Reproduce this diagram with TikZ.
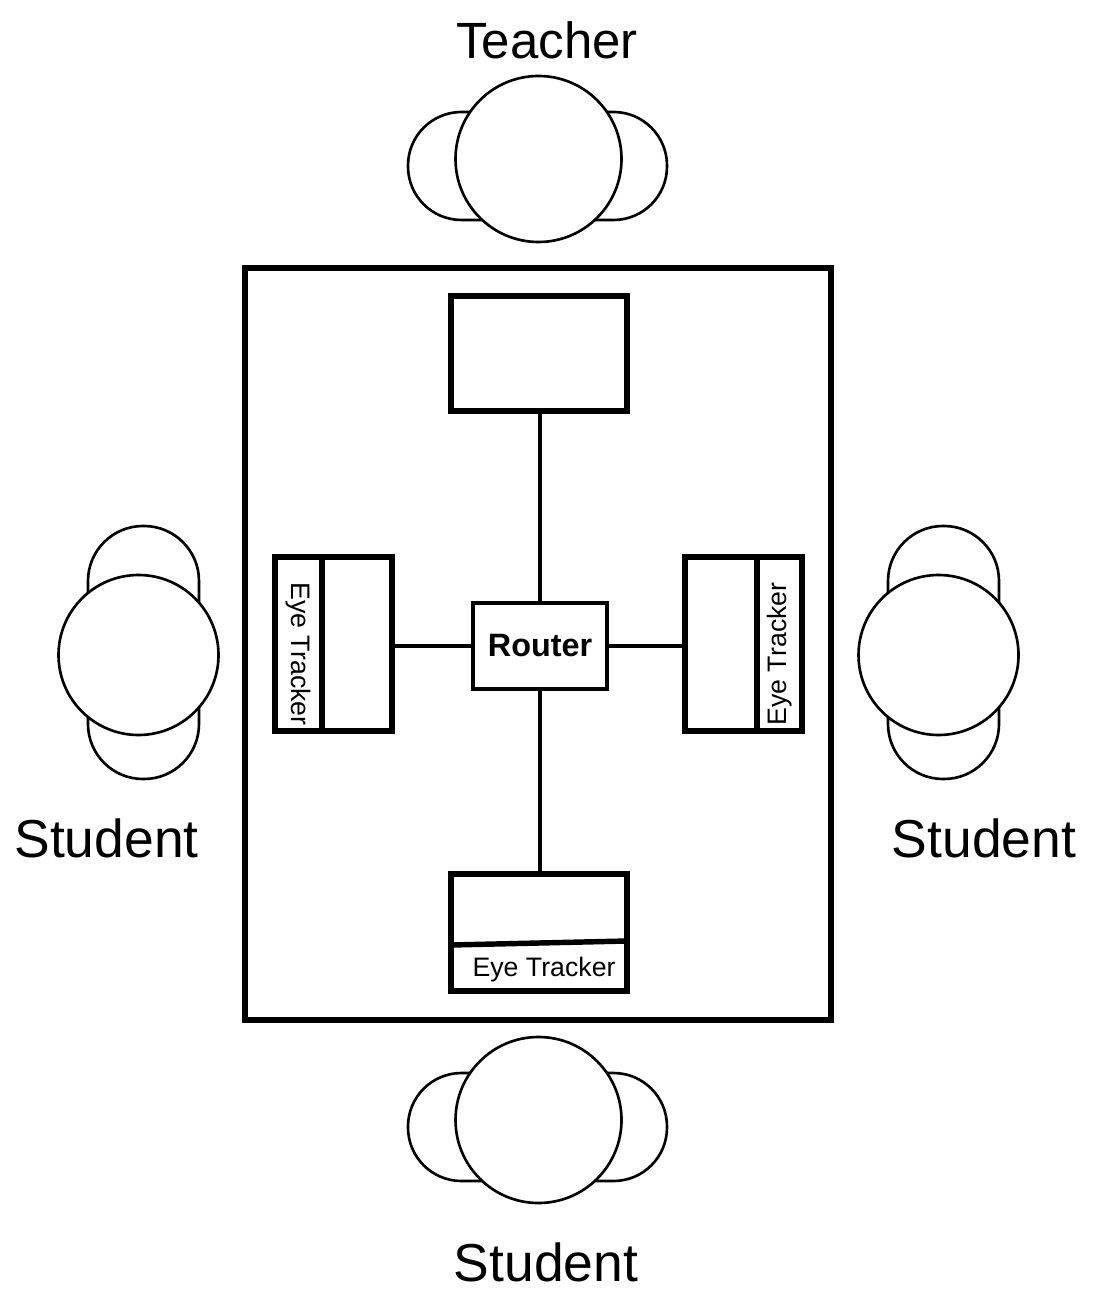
\documentclass[tikz,border=0pt]{standalone}
\usepackage{fontspec}
\setmainfont{Liberation Sans}
\tikzset{
  laptop/.style={draw,line width=1.55pt,fill=white,inner sep=0pt},
  link/.style={line width=1pt},
  chair/.style={line width=0.75pt,fill=white},
  seatlabel/.style={font=\fontsize{14.5}{16}\selectfont},
  tracker/.style={font=\fontsize{7.6}{9}\selectfont,inner sep=0pt}
}
\begin{document}
\begin{tikzpicture}
    \useasboundingbox (0,0) rectangle (10.95,-13.03);

    % Teacher chair at the top
    \draw[chair,rounded corners=0.535cm] (4.08,-1.12) rectangle (6.67,-2.20);
    \draw[chair] (5.385,-1.59) circle (0.83);
    \node[seatlabel] (teacher) at (5.47,-0.40) {Teacher};

    % Student chairs left, right and bottom
    \draw[chair,rounded corners=0.55cm] (0.88,-5.26) rectangle (1.99,-7.79);
    \draw[chair] (1.385,-6.55) circle (0.80);
    \node[seatlabel,font=\fontsize{15.2}{17}\selectfont] (leftStudent) at (1.065,-8.38) {Student};

    \draw[chair,rounded corners=0.55cm] (8.88,-5.26) rectangle (9.99,-7.79);
    \draw[chair] (9.385,-6.55) circle (0.80);
    \node[seatlabel,font=\fontsize{15.2}{17}\selectfont] (rightStudent) at (9.84,-8.38) {Student};

    \draw[chair,rounded corners=0.535cm] (4.08,-10.73) rectangle (6.67,-11.81);
    \draw[chair] (5.385,-11.20) circle (0.83);
    \node[seatlabel,font=\fontsize{15.2}{17}\selectfont] (bottomStudent) at (5.46,-12.62) {Student};

    % Table
    \draw[line width=1.45pt] (2.45,-2.68) rectangle (8.31,-10.20);

    % Laptops and router
    \node[laptop,minimum width=1.76cm,minimum height=1.15cm] (topPC) at (5.39,-3.535) {};
    \node[laptop,minimum width=1.17cm,minimum height=1.74cm] (leftPC) at (3.335,-6.44) {};
    \node[laptop,minimum width=1.17cm,minimum height=1.74cm] (rightPC) at (7.435,-6.44) {};
    \node[laptop,minimum width=1.76cm,minimum height=1.17cm] (bottomPC) at (5.39,-9.325) {};
    \node[laptop,line width=1.3pt,minimum width=1.34cm,minimum height=0.86cm,font=\fontsize{9.2}{11}\selectfont\bfseries] (router) at (5.40,-6.46) {Router};

    % Cables
    \draw[link] (topPC.south -| router.north) -- (router.north);
    \draw[link] (router.south) -- (router.south |- bottomPC.north);
    \draw[link] (leftPC.east |- router.west) -- (router.west);
    \draw[link] (router.east) -- (router.east -| rightPC.west);

    % Eye trackers
    \draw[line width=1.55pt] (3.22,-5.57) -- (3.22,-7.31);
    \node[tracker,rotate=-90] (leftET) at (2.985,-6.54) {Eye Tracker};
    \draw[line width=1.55pt] (7.57,-5.57) -- (7.57,-7.31);
    \node[tracker,rotate=90] (rightET) at (7.795,-6.54) {Eye Tracker};
    \draw[line width=1.55pt] (4.51,-9.45) -- (6.27,-9.41);
    \node[tracker] (bottomET) at (5.44,-9.70) {Eye Tracker};
\end{tikzpicture}
\end{document}
